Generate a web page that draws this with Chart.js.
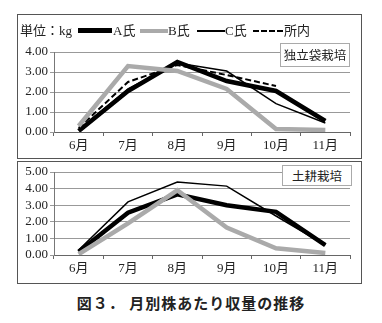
<!DOCTYPE html>
<html><head><meta charset="utf-8">
<script src="https://cdn.jsdelivr.net/npm/chart.js@4/dist/chart.umd.min.js"></script>
<style>
html,body{margin:0;padding:0;background:#fff;}
body{width:382px;height:323px;position:relative;overflow:hidden;font-family:'Liberation Serif','Noto Sans CJK JP',serif;color:#222;}
.frame{position:absolute;border:1px solid #555;box-sizing:border-box;}
canvas{position:absolute;left:0;}
.lg{position:absolute;font-size:13px;line-height:14px;top:24px;white-space:nowrap;}
.sw{position:absolute;}
.tag{position:absolute;border:1px solid #aaa;background:#fff;font-family:'Noto Sans CJK JP',sans-serif;font-size:12.5px;text-align:center;box-sizing:border-box;color:#222;}
.cap{position:absolute;left:0;width:382px;text-align:center;top:292px;font-family:'Noto Sans CJK JP',sans-serif;font-weight:bold;font-size:15px;letter-spacing:1px;color:#222;}
</style></head>
<body>
<div class="frame" style="left:17px;top:14px;width:345px;height:145px;"></div>
<div class="frame" style="left:17px;top:161px;width:345px;height:123px;"></div>
<canvas id="c1" width="382" height="160" style="top:0"></canvas>
<canvas id="c2" width="382" height="130" style="top:160px"></canvas>
<div class="lg" style="left:20px">単位：kg</div>
<div class="sw" style="left:78px;top:28px;width:34px;height:5px;background:#000"></div>
<div class="lg" style="left:113px">A氏</div>
<div class="sw" style="left:140px;top:29px;width:28px;height:4px;background:#aaa"></div>
<div class="lg" style="left:168px">B氏</div>
<div class="sw" style="left:197px;top:30px;width:28px;height:0;border-top:2px solid #000"></div>
<div class="lg" style="left:225px">C氏</div>
<div class="sw" style="left:253px;top:30px;width:30px;height:0;border-top:2px dashed #000"></div>
<div class="lg" style="left:284px">所内</div>
<div class="tag" style="left:280px;top:43px;width:70px;height:24px;line-height:22px;">独立袋栽培</div>
<div class="tag" style="left:282px;top:165px;width:70px;height:21px;line-height:19px;">土耕栽培</div>
<div class="cap">図３．&nbsp;月別株あたり収量の推移</div>
<script>
const months = ['6月','7月','8月','9月','10月','11月'];
// 独立袋栽培
const bagA = [0.05, 2.05, 3.50, 2.55, 2.05, 0.55];
const bagB = [0.30, 3.30, 3.05, 2.15, 0.15, 0.10];
const bagC = [0.10, 2.15, 3.45, 3.05, 1.42, 0.45];
const bagShonai = [0.20, 2.50, 3.35, 2.85, 2.30, null];
// 土耕栽培
const soilA = [0.20, 2.55, 3.65, 3.00, 2.60, 0.60];
const soilB = [0.05, 1.90, 3.90, 1.65, 0.40, 0.12];
const soilC = [0.30, 3.20, 4.40, 4.15, 2.35, 0.60];
const bagYMax = 4;
const soilYMax = 5;

const tickFont = {family:"'Liberation Serif','Noto Sans CJK JP',serif", size:13};

function ds(label, data, color, width, dash){
  return {label, data, borderColor:color, backgroundColor:color, borderWidth:width,
    borderDash:dash||[], pointRadius:0, tension:0, fill:false, spanGaps:false,
    borderCapStyle:'butt', borderJoinStyle:'miter'};
}
function makeChart(id, sets, yMax, padding, xHeight){
  return new Chart(document.getElementById(id), {
    type:'line',
    data:{labels:months, datasets:sets},
    options:{
      responsive:false, animation:false, devicePixelRatio:1,
      layout:{padding:padding},
      plugins:{legend:{display:false}, tooltip:{enabled:false}},
      scales:{
        x:{offset:true,
           grid:{offset:true, drawOnChartArea:false, drawTicks:true, tickLength:4, color:'#666'},
           border:{display:true, color:'#666'},
           ticks:{font:tickFont, color:'#222', padding:2, maxRotation:0, autoSkip:false},
           afterFit:s=>{s.height=xHeight;}},
        y:{min:0, max:yMax,
           grid:{color:'#999', tickLength:4, drawTicks:true},
           border:{display:true, color:'#777'},
           ticks:{font:tickFont, color:'#222', padding:2, stepSize:1, autoSkip:false,
                  callback:v=>Number(v).toFixed(2)},
           afterFit:s=>{s.width=54;}}
      }
    }
  });
}
makeChart('c1', [
  ds('B氏', bagB, '#aaaaaa', 4.5),
  ds('所内', bagShonai, '#000', 2, [6,3]),
  ds('C氏', bagC, '#000', 1.5),
  ds('A氏', bagA, '#000', 4.5)
], bagYMax, {left:0, right:32, top:52, bottom:6}, 22);
makeChart('c2', [
  ds('B氏', soilB, '#aaaaaa', 4.5),
  ds('C氏', soilC, '#000', 1.5),
  ds('A氏', soilA, '#000', 4.5)
], soilYMax, {left:0, right:32, top:12, bottom:13}, 22);
</script>
</body></html>
